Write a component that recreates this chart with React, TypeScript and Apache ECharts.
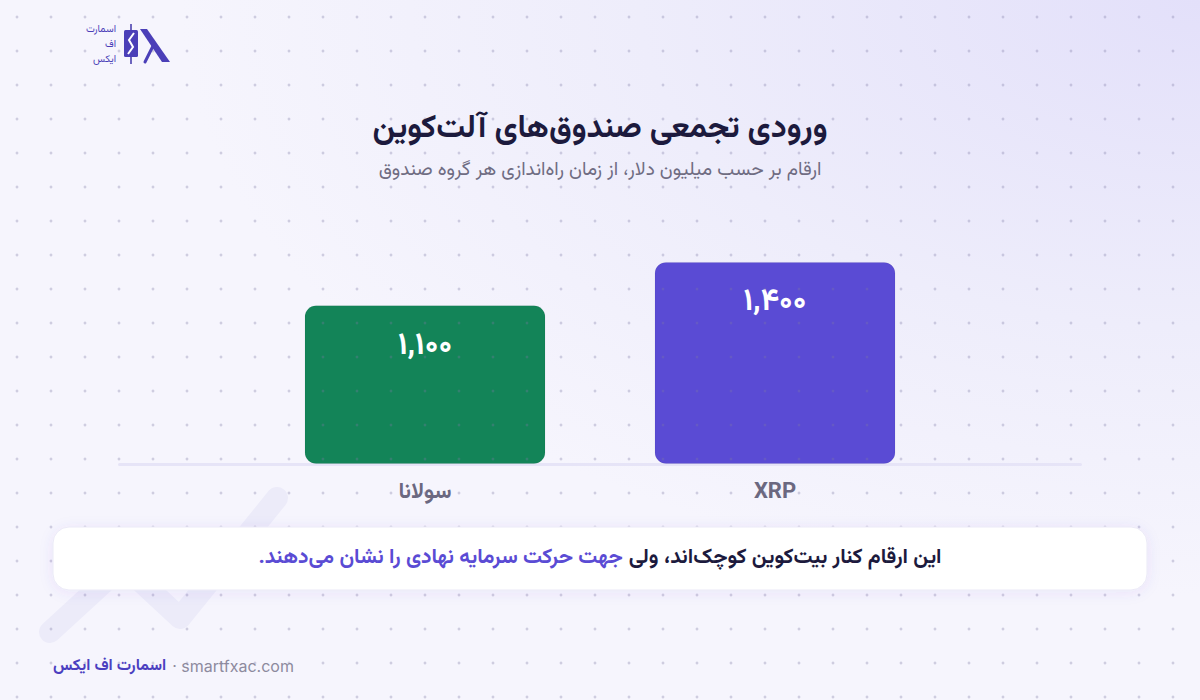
import React, { useEffect, useRef } from "react";
import * as echarts from "echarts";

const categories = ["سولانا", "XRP"];
const values = [1100, 1400];
const barColors = ["#138458", "#5a4bd4"];

const titleText = "ورودی تجمعی صندوق‌های آلت‌کوین";
const subtitleText = "ارقام بر حسب میلیون دلار، از زمان راه‌اندازی هر گروه صندوق";
const noteDark = "این ارقام کنار بیت‌کوین کوچک‌اند، ولی";
const notePurple = "جهت حرکت سرمایه نهادی را نشان می‌دهند.\u200F";
const footerBrand = "اسمارت اف ایکس";
const footerSite = "· smartfxac.com";
const logoLines = ["اسمارت", "اف", "ایکس"];

const FA = "Vazirmatn, 'Noto Sans Arabic', 'DejaVu Sans', sans-serif";
const LAT = "Inter, Roboto, 'Noto Sans', sans-serif";

const toFa = (n: number) =>
  n.toLocaleString("en-US").replace(/\d/g, (d) => "۰۱۲۳۴۵۶۷۸۹"[+d]);

function measure(text: string, font: string) {
  const c = document.createElement("canvas").getContext("2d");
  if (!c) return text.length * 8;
  c.font = font;
  return c.measureText(text).width;
}

export default function App() {
  const ref = useRef<HTMLDivElement>(null);
  useEffect(() => {
    document.body.style.margin = "0";
    if (!ref.current) return;
    const chart = echarts.init(ref.current, undefined, { renderer: "svg" });

    const W = 1200, H = 700;
    const dots: any[] = [];
    for (let x = 17; x < W; x += 34) {
      for (let y = 17; y < H; y += 34) {
        dots.push({
          type: "circle",
          shape: { cx: x, cy: y, r: 1.4 },
          style: { fill: "rgba(125,120,165,0.32)" },
          silent: true,
          z: 5,
        });
      }
    }

    const noteFont = `bold 21px ${FA}`;
    const wDark = measure(noteDark, noteFont);
    const wPurple = measure(notePurple, noteFont);
    const gap = 6;
    const total = wDark + gap + wPurple;
    const rightEdge = 600 + total / 2;

    const brandFont = `bold 16px ${FA}`;
    const wBrand = measure(footerBrand, brandFont);

    const option: any = {
      animation: false,
      backgroundColor: "#f5f4fd",
      grid: { left: 250, right: 250, top: 233, bottom: 236 },
      xAxis: {
        type: "category",
        data: categories,
        axisLine: { show: false },
        axisTick: { show: false },
        axisLabel: {
          margin: 17,
          fontFamily: FA,
          fontWeight: "bold",
          fontSize: 22,
          color: "#6b6880",
        },
      },
      yAxis: { type: "value", min: 0, max: 1600, show: false, splitLine: { show: false } },
      series: [
        {
          type: "bar",
          barWidth: 241,
          data: values.map((v, i) => ({
            value: v,
            itemStyle: { color: barColors[i] },
          })),
          itemStyle: {
            borderRadius: 11,
            borderColor: "rgba(0,0,0,0.05)",
            borderWidth: 1,
          },
          label: {
            show: true,
            position: "insideTop",
            distance: 24,
            formatter: (p: any) => toFa(p.value),
            color: "#ffffff",
            fontFamily: FA,
            fontWeight: "bold",
            fontSize: 31,
            lineHeight: 34,
          },
          z: 2,
        },
      ],
      graphic: [
        {
          type: "rect",
          shape: { x: 0, y: 0, width: W, height: H },
          style: {
            fill: new echarts.graphic.RadialGradient(1, 0, 0.85, [
              { offset: 0, color: "#e3e0fa" },
              { offset: 0.55, color: "#eeedfb" },
              { offset: 1, color: "#f6f5fd" },
            ]),
          },
          silent: true,
          z: -10,
        },
        {
          type: "polyline",
          shape: { points: [[50, 632], [123, 565], [180, 618], [277, 498]] },
          style: {
            stroke: "#ecebf9",
            lineWidth: 22,
            lineCap: "round",
            lineJoin: "round",
            fill: null,
          },
          silent: true,
          z: -5,
        },
        {
          type: "rect",
          shape: { x: 118, y: 463, width: 964, height: 3, r: 1.5 },
          style: { fill: "#e6e4f7" },
          silent: true,
          z: 1,
        },
        ...dots,
        // logo
        ...logoLines.map((t, i) => ({
          type: "text",
          x: 116,
          y: [29, 44, 59][i],
          style: {
            text: t,
            fill: "#4b3fb8",
            font: `10px ${FA}`,
            lineHeight: 10,
            align: "right",
            verticalAlign: "middle",
          },
          z: 10,
        })),
        {
          type: "line",
          shape: { x1: 131, y1: 24, x2: 131, y2: 64 },
          style: { stroke: "#3f35a8", lineWidth: 1.5 },
          z: 10,
        },
        {
          type: "rect",
          shape: { x: 124, y: 30, width: 14, height: 27, r: 1.5 },
          style: { fill: "#4b3fb8" },
          z: 10,
        },
        {
          type: "polyline",
          shape: { points: [[134, 33], [129, 40], [133, 47], [128, 54]] },
          style: { stroke: "#ffffff", lineWidth: 2, fill: null },
          z: 11,
        },
        {
          type: "polygon",
          shape: { points: [[140, 29], [147, 29], [170, 62], [162, 62]] },
          style: { fill: "#4b3fb8" },
          z: 10,
        },
        {
          type: "line",
          shape: { x1: 154, y1: 44, x2: 145, y2: 62 },
          style: { stroke: "#4b3fb8", lineWidth: 3, lineCap: "round" },
          z: 10,
        },
        // titles
        {
          type: "text",
          x: 600,
          y: 129,
          style: {
            text: titleText,
            fill: "#1c1a3d",
            font: `bold 32px ${FA}`,
            align: "center",
            verticalAlign: "middle",
          },
          z: 10,
        },
        {
          type: "text",
          x: 600,
          y: 170,
          style: {
            text: subtitleText,
            fill: "#6f6c82",
            font: `19px ${FA}`,
            align: "center",
            verticalAlign: "middle",
          },
          z: 10,
        },
        // note card
        {
          type: "rect",
          shape: { x: 53, y: 527, width: 1094, height: 63, r: 16 },
          style: {
            fill: "#ffffff",
            stroke: "#ebe9f7",
            lineWidth: 1,
            shadowBlur: 14,
            shadowColor: "rgba(90,75,212,0.08)",
            shadowOffsetY: 2,
          },
          z: 20,
        },
        {
          type: "text",
          x: rightEdge,
          y: 557,
          style: {
            text: noteDark,
            fill: "#1c1a3d",
            font: noteFont,
            align: "right",
            verticalAlign: "middle",
          },
          z: 21,
        },
        {
          type: "text",
          x: rightEdge - wDark - gap,
          y: 557,
          style: {
            text: notePurple,
            fill: "#5a4bd4",
            font: noteFont,
            align: "right",
            verticalAlign: "middle",
          },
          z: 21,
        },
        // footer
        {
          type: "text",
          x: 53,
          y: 666,
          style: {
            text: footerBrand,
            fill: "#4b3fc0",
            font: brandFont,
            align: "left",
            verticalAlign: "middle",
          },
          z: 10,
        },
        {
          type: "text",
          x: 53 + wBrand + 6,
          y: 666,
          style: {
            text: footerSite,
            fill: "#8d8a9e",
            font: `16px ${LAT}`,
            align: "left",
            verticalAlign: "middle",
          },
          z: 10,
        },
      ],
    };
    chart.setOption(option);
    return () => chart.dispose();
  }, []);
  return (
    <div
      ref={ref}
      style={{ width: 1200, height: 700, position: "fixed", left: 0, top: 0 }}
    />
  );
}
